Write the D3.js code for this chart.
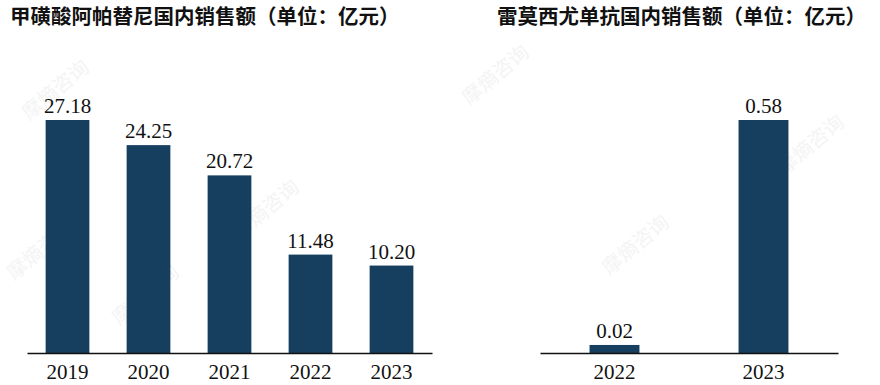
<!DOCTYPE html>
<html>
<head>
<meta charset="utf-8">
<script src="https://cdn.jsdelivr.net/npm/d3@7"></script>
<style>
  body { margin: 0; background: #fff; }
  svg { display: block; }
</style>
</head>
<body>
<svg id="chart" width="880" height="385"></svg>
<script>
// Left chart data
const leftTitle = '甲磺酸阿帕替尼国内销售额（单位：亿元）';
const leftYears = ['2019', '2020', '2021', '2022', '2023'];
const leftValues = [27.18, 24.25, 20.72, 11.48, 10.20];

// Right chart data
const rightTitle = '雷莫西尤单抗国内销售额（单位：亿元）';
const rightYears = ['2022', '2023'];
const rightValues = [0.02, 0.58];

const barColor = '#163f5f';
const baseY = 353;
const topY = 120;

const svg = d3.select('#chart');

// faint watermarks
const marks = [[60, 95], [270, 215], [500, 80], [640, 250], [815, 150], [150, 300], [45, 255]];
svg.append('g').selectAll('text')
    .data(marks)
    .enter().append('text')
    .attr('transform', d => `translate(${d[0]},${d[1]}) rotate(-40)`)
    .attr('text-anchor', 'middle')
    .attr('font-family', '"Noto Sans CJK SC", sans-serif')
    .attr('font-size', 20)
    .attr('fill', '#f4f4f4')
    .text('摩熵咨询');

function drawPanel(opts) {
    const x = d3.scaleBand()
        .domain(opts.cats)
        .range([opts.x0, opts.x1])
        .paddingInner(opts.pad)
        .paddingOuter(opts.pad / 2);

    const y = d3.scaleLinear()
        .domain([0, d3.max(opts.values)])
        .range([baseY, topY]);

    const g = svg.append('g');

    g.selectAll('.bar')
        .data(opts.values)
        .enter().append('rect')
        .attr('class', 'bar')
        .attr('x', (d, i) => x(opts.cats[i]))
        .attr('y', d => y(d))
        .attr('width', x.bandwidth())
        .attr('height', d => baseY - y(d))
        .attr('fill', barColor);

    g.selectAll('.val')
        .data(opts.values)
        .enter().append('text')
        .attr('class', 'val')
        .attr('x', (d, i) => x(opts.cats[i]) + x.bandwidth() / 2)
        .attr('y', d => y(d) - 7)
        .attr('text-anchor', 'middle')
        .attr('font-family', '"Liberation Serif", "Times New Roman", serif')
        .attr('font-size', 21)
        .attr('fill', '#111')
        .text(d => d.toFixed(2));

    const axis = g.append('g')
        .attr('transform', `translate(0,${baseY})`)
        .call(d3.axisBottom(x).tickSize(0).tickPadding(11));
    axis.select('.domain').attr('stroke', '#111').attr('stroke-width', 1.3);
    axis.selectAll('text')
        .attr('font-family', '"Liberation Serif", "Times New Roman", serif')
        .attr('font-size', 21)
        .attr('fill', '#111');

    svg.append('text')
        .attr('x', opts.titleX)
        .attr('y', 24)
        .attr('font-family', '"Noto Sans CJK SC", sans-serif')
        .attr('font-weight', 'bold')
        .attr('font-size', 20.5)
        .attr('fill', '#111')
        .text(opts.title);
}

drawPanel({ cats: leftYears, values: leftValues, x0: 27, x1: 432, pad: 0.46, title: leftTitle, titleX: 10 });
drawPanel({ cats: rightYears, values: rightValues, x0: 540, x1: 838, pad: 0.665, title: rightTitle, titleX: 497 });
</script>
</body>
</html>
